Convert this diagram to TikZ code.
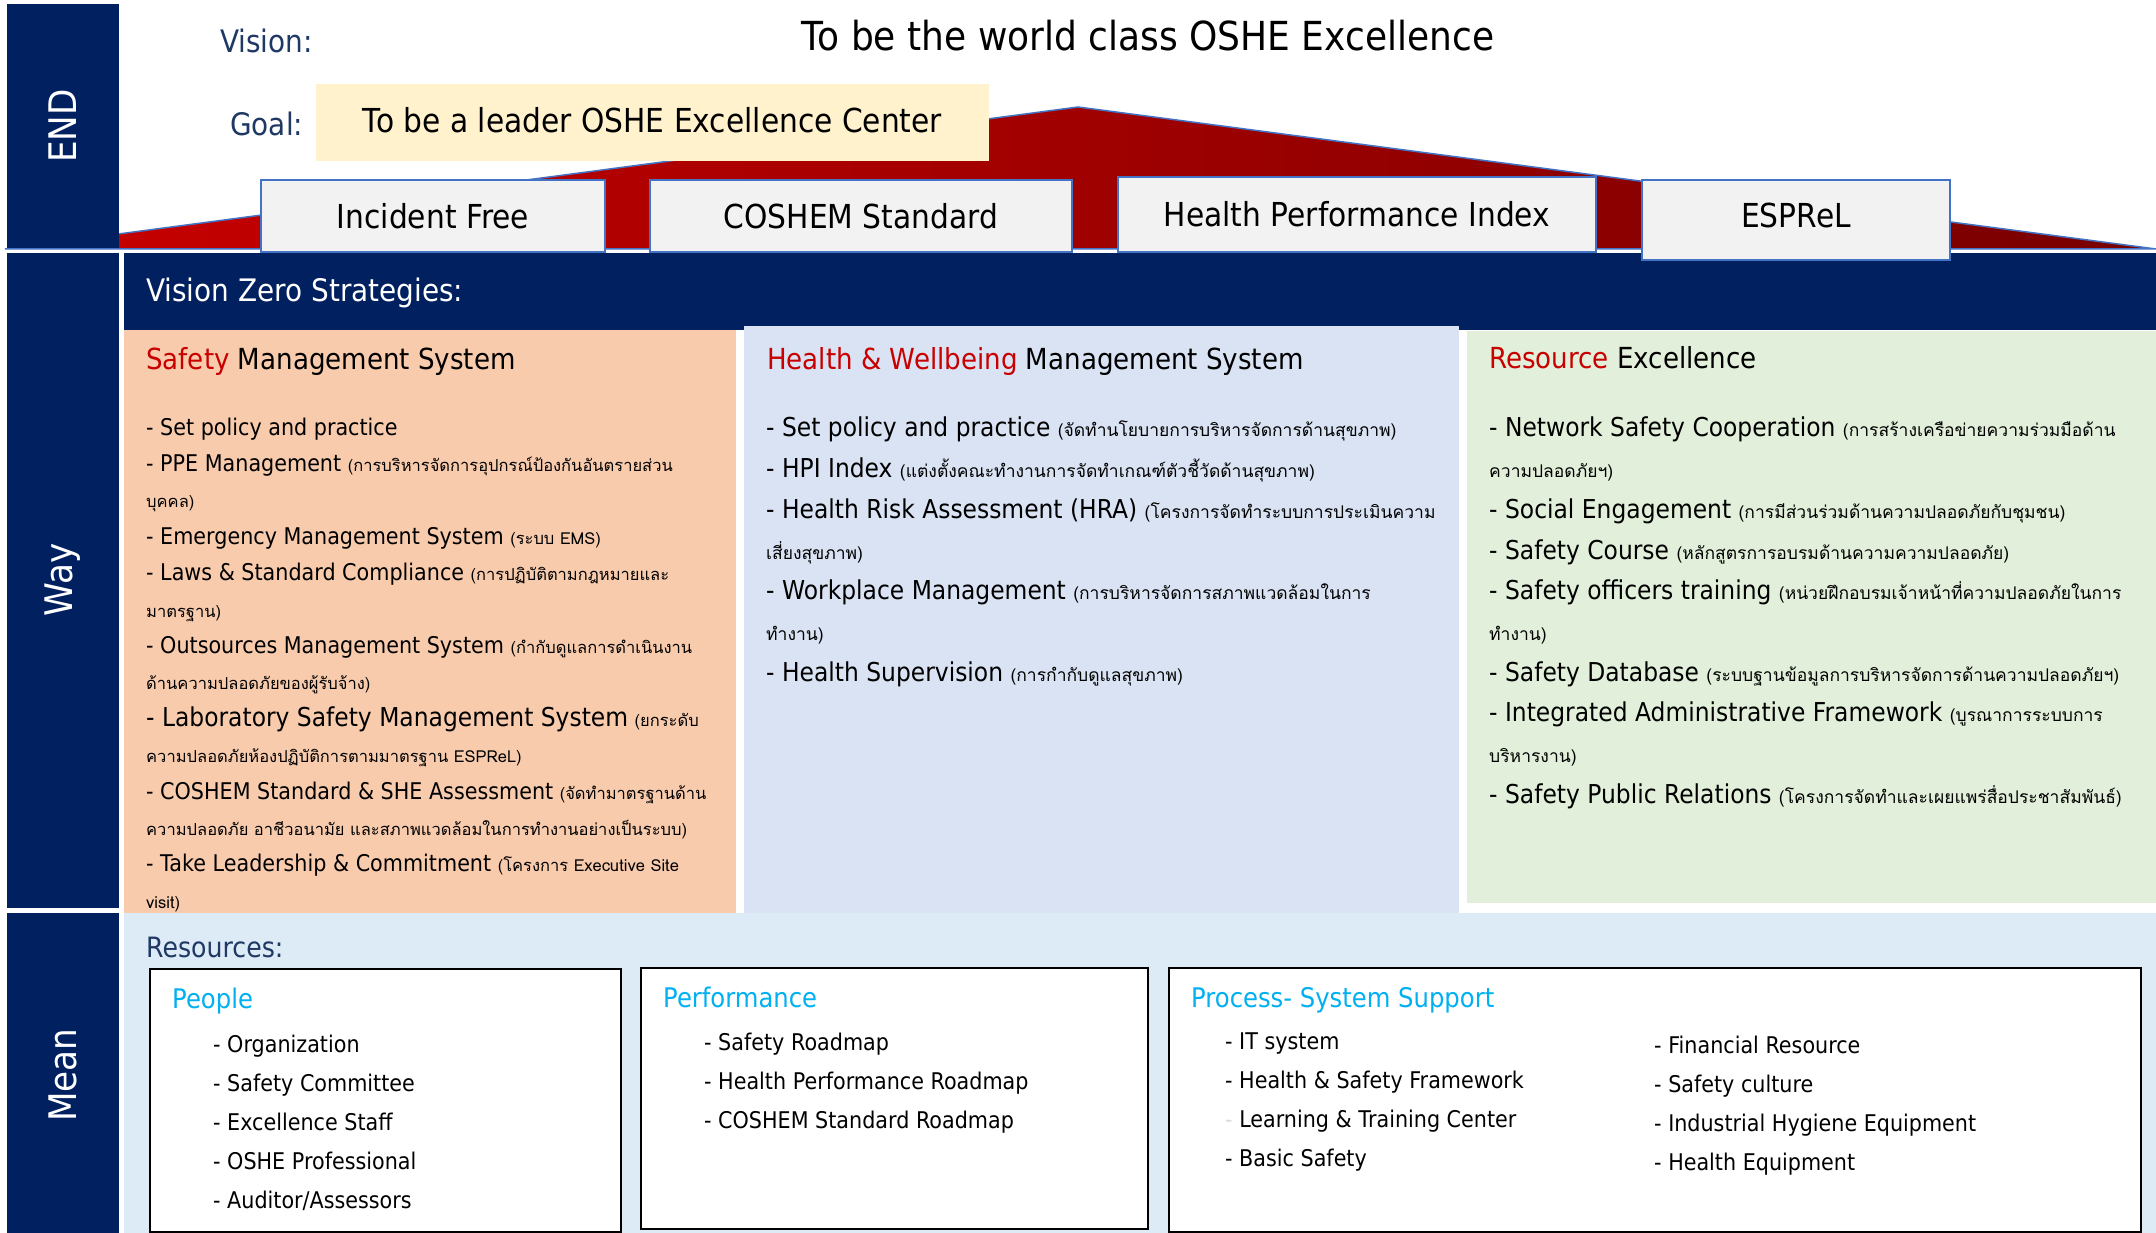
\documentclass[tikz,border=0pt]{standalone}
\usepackage{fontspec}
\setmainfont{DejaVu Sans}[FakeStretch=0.9]
\newfontfamily\thaifont[Script=Thai]{Loma}

\definecolor{navy}{RGB}{0,32,96}
\definecolor{roofred}{RGB}{200,0,0}
\definecolor{roofdark}{RGB}{120,0,0}
\definecolor{goalfill}{RGB}{255,242,204}
\definecolor{pillarfill}{RGB}{242,242,242}
\definecolor{pillarline}{RGB}{68,114,196}
\definecolor{safetyfill}{RGB}{248,203,173}
\definecolor{healthfill}{RGB}{218,227,243}
\definecolor{resfill}{RGB}{226,239,218}
\definecolor{meanfill}{RGB}{221,235,247}
\definecolor{hired}{RGB}{200,0,0}
\definecolor{titlecyan}{RGB}{0,176,240}
\definecolor{labelblue}{RGB}{31,56,100}

\newcommand{\thsm}[1]{{\thaifont\fontsize{16.5}{36.4}\selectfont #1}}
\newcommand{\thlg}[1]{{\thaifont\fontsize{17.5}{40.7}\selectfont #1}}
\newcommand{\redword}[1]{\textcolor{hired}{#1}}

\begin{document}
\begin{tikzpicture}[x=1pt,y=-1pt,
  sidetext/.style={text=white,font=\fontsize{38}{40}\selectfont,rotate=90},
  pillar/.style={draw=pillarline,line width=2pt,fill=pillarfill,inner sep=0,
    font=\fontsize{33}{36}\selectfont},
  toplabel/.style={anchor=base west,inner sep=0,text=labelblue,
    font=\fontsize{31}{34}\selectfont},
  coltitle/.style={anchor=base west,inner sep=0,font=\fontsize{29}{32}\selectfont},
  items/.style={anchor=north west,align=left,inner sep=0},
  resbox/.style={draw=black,line width=2.5pt,fill=white},
  restitle/.style={anchor=base west,inner sep=0,text=titlecyan,
    font=\fontsize{27}{30}\selectfont},
  resitems/.style={anchor=north west,align=left,inner sep=0,
    font=\fontsize{23}{39}\selectfont}]

\useasboundingbox (0,0) rectangle (2156,1233);
\fill[white] (0,0) rectangle (2156,1233);

% roof.
\shadedraw[left color=roofred,right color=roofdark,draw=pillarline,line width=1.5pt]
  (5,249) -- (1078,107) -- (2156,249) -- cycle;

% side strips.
\fill[navy] (7,4) rectangle (119,248);
\fill[navy] (7,253) rectangle (119,908);
\fill[navy] (7,913) rectangle (119,1233);
\node[sidetext] (endtag) at (63,126) {END};
\node[sidetext] (waytag) at (63,580) {Way};
\node[sidetext] (meantag) at (63,1075) {Mean};

% vision and goal.
\node[toplabel] (vision) at (220,53) {Vision:};
\node[anchor=base,inner sep=0,font=\fontsize{40}{44}\selectfont] (visiontext) at (1148,51)
  {To be the world class OSHE Excellence};
\node[toplabel] (goal) at (230,136) {Goal:};
\node[fill=goalfill,minimum width=673pt,minimum height=77pt,text depth=6pt,
  font=\fontsize{33}{36}\selectfont] (goaltext) at (652.5,122.5)
  {To be a leader OSHE Excellence Center};

% strategy band.
\fill[navy] (124,253) rectangle (2156,330);
\node[anchor=base west,inner sep=0,text=white,font=\fontsize{31}{34}\selectfont]
  (zero) at (146,302) {Vision Zero Strategies:};

% pillars.
\node[pillar,minimum width=344pt,minimum height=72pt] (incident) at (433,216) {Incident Free};
\node[pillar,minimum width=422pt,minimum height=72pt] (coshem) at (861,216) {COSHEM Standard};
\node[pillar,minimum width=478pt,minimum height=75pt] (hpi) at (1357,214.5) {Health Performance Index};
\node[pillar,minimum width=308pt,minimum height=80pt,text depth=9pt] (esprel) at (1796,220) {ESPReL};

% three columns.
\fill[safetyfill] (124,330) rectangle (736,913);
\fill[healthfill] (744,326) rectangle (1459,913);
\fill[resfill] (1467,331) rectangle (2156,903);

\node[coltitle] (safetytitle) at (146,370) {\redword{Safety} Management System};
\node[coltitle] (healthtitle) at (767,370) {\redword{Health \& Wellbeing} Management System};
\node[coltitle] (restitle) at (1489,369) {\redword{Resource} Excellence};

\node[items,font=\fontsize{23}{36.4}\selectfont] (safetylist) at (146,417.5) {%
- Set policy and practice\\
- PPE Management \thsm{(การบริหารจัดการอุปกรณ์ป้องกันอันตรายส่วน}\\
\thsm{บุคคล)}\\
- Emergency Management System \thsm{(ระบบ EMS)}\\
- Laws \& Standard Compliance \thsm{(การปฏิบัติตามกฎหมายและ}\\
\thsm{มาตรฐาน)}\\
- Outsources Management System \thsm{(กำกับดูแลการดำเนินงาน}\\
\thsm{ด้านความปลอดภัยของผู้รับจ้าง)}\\
{\fontsize{26}{36.4}\selectfont - Laboratory Safety Management System} \thsm{(ยกระดับ}\\
\thsm{ความปลอดภัยห้องปฏิบัติการตามมาตรฐาน ESPReL)}\\
- COSHEM Standard \& SHE Assessment \thsm{(จัดทำมาตรฐานด้าน}\\
\thsm{ความปลอดภัย อาชีวอนามัย และสภาพแวดล้อมในการทำงานอย่างเป็นระบบ)}\\
- Take Leadership \& Commitment \thsm{(โครงการ Executive Site}\\
\thsm{visit)}};

\node[items,font=\fontsize{26}{40.7}\selectfont] (healthlist) at (766,417) {%
- Set policy and practice \thlg{(จัดทำนโยบายการบริหารจัดการด้านสุขภาพ)}\\
- HPI Index \thlg{(แต่งตั้งคณะทำงานการจัดทำเกณฑ์ตัวชี้วัดด้านสุขภาพ)}\\
- Health Risk Assessment (HRA) \thlg{(โครงการจัดทำระบบการประเมินความ}\\
\thlg{เสี่ยงสุขภาพ)}\\
- Workplace Management \thlg{(การบริหารจัดการสภาพแวดล้อมในการ}\\
\thlg{ทำงาน)}\\
- Health Supervision \thlg{(การกำกับดูแลสุขภาพ)}};

\node[items,font=\fontsize{26}{40.7}\selectfont] (reslist) at (1489,417) {%
- Network Safety Cooperation \thlg{(การสร้างเครือข่ายความร่วมมือด้าน}\\
\thlg{ความปลอดภัยฯ)}\\
- Social Engagement \thlg{(การมีส่วนร่วมด้านความปลอดภัยกับชุมชน)}\\
- Safety Course \thlg{(หลักสูตรการอบรมด้านความความปลอดภัย)}\\
- Safety officers training \thlg{(หน่วยฝึกอบรมเจ้าหน้าที่ความปลอดภัยในการ}\\
\thlg{ทำงาน)}\\
- Safety Database \thlg{(ระบบฐานข้อมูลการบริหารจัดการด้านความปลอดภัยฯ)}\\
- Integrated Administrative Framework \thlg{(บูรณาการระบบการ}\\
\thlg{บริหารงาน)}\\
- Safety Public Relations \thlg{(โครงการจัดทำและเผยแพร่สื่อประชาสัมพันธ์)}};

% resources.
\fill[meanfill] (124,913) rectangle (2156,1233);
\node[toplabel,font=\fontsize{28}{30}\selectfont] (resources) at (146,957) {Resources:};

\draw[resbox] (150,969) rectangle (621,1232);
\draw[resbox] (641,968) rectangle (1148,1229);
\draw[resbox] (1169,968) rectangle (2141,1232);

\node[restitle] (people) at (172,1008) {People};
\node[restitle] (perf) at (663,1007) {Performance};
\node[restitle] (process) at (1191,1007) {Process- System Support};

\node[resitems] (peoplelist) at (213,1035) {%
- Organization\\
- Safety Committee\\
- Excellence Staff\\
- OSHE Professional\\
- Auditor/Assessors};
\node[resitems] (perflist) at (704,1033) {%
- Safety Roadmap\\
- Health Performance Roadmap\\
- COSHEM Standard Roadmap};
\node[resitems] (processleft) at (1225,1033) {%
- IT system\\
- Health \& Safety Framework\\
{\color{black!15}-} Learning \& Training Center\\
- Basic Safety};
\node[resitems] (processright) at (1654,1036) {%
- Financial Resource\\
- Safety culture\\
- Industrial Hygiene Equipment\\
- Health Equipment};

\end{tikzpicture}
\end{document}
